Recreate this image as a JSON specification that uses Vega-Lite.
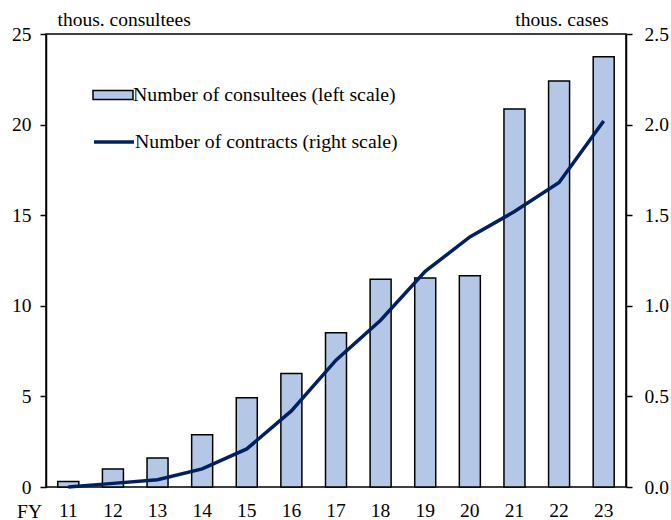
{
  "$schema": "https://vega.github.io/schema/vega-lite/v6.json",
  "width": 580,
  "height": 453,
  "autosize": "none",
  "padding": {"left": 46, "top": 34, "right": 45, "bottom": 33},
  "background": "white",
  "config": {
    "font": "Liberation Serif",
    "view": {"stroke": "black", "strokeWidth": 1.5},
    "axis": {"labelFont": "Liberation Serif", "titleFont": "Liberation Serif", "labelFontSize": 19.5, "titleFontSize": 19.5, "labelColor": "black", "titleColor": "black", "titleFontWeight": "normal", "domainColor": "black", "tickColor": "black", "domainWidth": 1.5, "tickWidth": 1.5, "grid": false},
    "legend": {"labelFont": "Liberation Serif", "labelFontSize": 19.8, "labelColor": "black", "labelLimit": 500}
  },
  "data": {"values": [
    {"fy": "11", "consultees": 0.3, "contracts": 0.0, "s1": "Number of consultees (left scale)", "s2": "Number of contracts (right scale)"},
    {"fy": "12", "consultees": 1.0, "contracts": 0.02, "s1": "Number of consultees (left scale)", "s2": "Number of contracts (right scale)"},
    {"fy": "13", "consultees": 1.6, "contracts": 0.04, "s1": "Number of consultees (left scale)", "s2": "Number of contracts (right scale)"},
    {"fy": "14", "consultees": 2.88, "contracts": 0.10, "s1": "Number of consultees (left scale)", "s2": "Number of contracts (right scale)"},
    {"fy": "15", "consultees": 4.93, "contracts": 0.21, "s1": "Number of consultees (left scale)", "s2": "Number of contracts (right scale)"},
    {"fy": "16", "consultees": 6.27, "contracts": 0.42, "s1": "Number of consultees (left scale)", "s2": "Number of contracts (right scale)"},
    {"fy": "17", "consultees": 8.51, "contracts": 0.70, "s1": "Number of consultees (left scale)", "s2": "Number of contracts (right scale)"},
    {"fy": "18", "consultees": 11.47, "contracts": 0.92, "s1": "Number of consultees (left scale)", "s2": "Number of contracts (right scale)"},
    {"fy": "19", "consultees": 11.53, "contracts": 1.19, "s1": "Number of consultees (left scale)", "s2": "Number of contracts (right scale)"},
    {"fy": "20", "consultees": 11.66, "contracts": 1.38, "s1": "Number of consultees (left scale)", "s2": "Number of contracts (right scale)"},
    {"fy": "21", "consultees": 20.86, "contracts": 1.52, "s1": "Number of consultees (left scale)", "s2": "Number of contracts (right scale)"},
    {"fy": "22", "consultees": 22.4, "contracts": 1.68, "s1": "Number of consultees (left scale)", "s2": "Number of contracts (right scale)"},
    {"fy": "23", "consultees": 23.75, "contracts": 2.02, "s1": "Number of consultees (left scale)", "s2": "Number of contracts (right scale)"}
  ]},
  "encoding": {
    "x": {"field": "fy", "type": "ordinal", "scale": {"type": "band", "paddingInner": 0, "paddingOuter": 0},
      "axis": {"title": "FY", "labelAngle": 0, "ticks": false, "tickSize": 0, "domain": false, "labelPadding": 14, "titleAngle": 0, "titleX": -17, "titleY": 30, "titleAlign": "center", "titleBaseline": "alphabetic"}}
  },
  "layer": [
    {
      "mark": {"type": "bar", "width": 21, "stroke": "black", "strokeWidth": 1.5},
      "encoding": {
        "y": {"field": "consultees", "type": "quantitative", "scale": {"domain": [0, 25], "nice": false},
          "axis": {"orient": "left", "values": [0, 5, 10, 15, 20, 25], "tickSize": 6, "labelPadding": 9, "title": "thous. consultees", "titleAngle": 0, "titleX": 11, "titleY": -9, "titleAlign": "left", "titleBaseline": "alphabetic"}},
        "fill": {"field": "s1", "type": "nominal", "scale": {"range": ["#b4c7e7"]},
          "legend": {"title": null, "orient": "none", "legendX": 46, "legendY": 40, "symbolType": "M-1,-0.22H1V0.22H-1Z", "symbolSize": 1600, "symbolStrokeColor": "black", "symbolStrokeWidth": 1.5, "symbolOpacity": 1, "labelOffset": -1}}
      }
    },
    {
      "mark": {"type": "line", "strokeWidth": 3.5},
      "encoding": {
        "y": {"field": "contracts", "type": "quantitative", "scale": {"domain": [0, 2.5], "nice": false},
          "axis": {"orient": "right", "values": [0, 0.5, 1, 1.5, 2, 2.5], "format": ".1f", "tickSize": 6, "labelPadding": 12, "title": "thous. cases", "titleAngle": 0, "titleX": -18, "titleY": -9, "titleAlign": "right", "titleBaseline": "alphabetic"}},
        "stroke": {"field": "s2", "type": "nominal", "scale": {"range": ["#002060"]},
          "legend": {"title": null, "orient": "none", "legendX": 46, "legendY": 86, "symbolType": "stroke", "symbolSize": 1600, "symbolStrokeWidth": 3.5, "labelOffset": -1}}
      }
    }
  ],
  "resolve": {"scale": {"y": "independent"}}
}
